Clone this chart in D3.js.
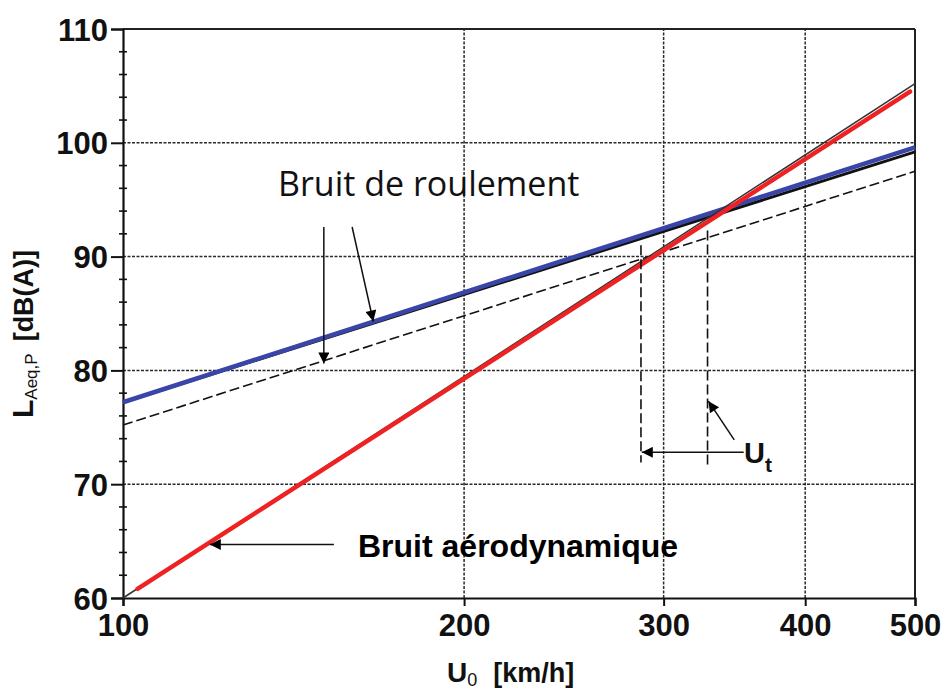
<!DOCTYPE html>
<html><head><meta charset="utf-8">
<script src="https://cdn.jsdelivr.net/npm/d3@7"></script>
<style>body{margin:0;background:#fff}svg{display:block}</style>
</head><body>
<svg id="chart" width="944" height="691"></svg>
<script>
// ---- data ----
const xTicks = [100, 200, 300, 400, 500];
const xGrid = [200, 300, 400];
const yTicks = [60, 70, 80, 90, 100, 110];
const yGrid = [70, 80, 90, 100];
const yMinor = [62, 64, 66, 68, 72, 74, 76, 78, 82, 84, 86, 88, 92, 94, 96, 98, 102, 104, 106, 108];
const speeds = [100, 500];
const rollingBlue = [77.2, 99.6];
const rollingBlack = [77.2, 99.2];
const rollingDashed = [75.2, 97.5];
const aeroBlack = [60.0, 105.2];
const aeroRedSpeeds = [103, 495];
const aeroRed = [60.8, 104.5];
const utSpeeds = [286.5, 328];
const utTop = [91.0, 92.3];
const utBottom = [71.9, 71.7];

// ---- layout ----
const W = 944, H = 691;
const m = {left: 123, right: 944 - 915, top: 29, bottom: 691 - 598};
const svg = d3.select('#chart');
const x = d3.scaleLog().domain([100, 500]).range([m.left, W - m.right]);
const y = d3.scaleLinear().domain([60, 110]).range([H - m.bottom, m.top]);

const defs = svg.append('defs');
defs.append('marker').attr('id', 'arr').attr('viewBox', '0 0 10 10')
  .attr('refX', 10).attr('refY', 5).attr('markerWidth', 14).attr('markerHeight', 11)
  .attr('markerUnits', 'userSpaceOnUse').attr('orient', 'auto')
  .append('path').attr('d', 'M0,0 L10,5 L0,10 Z').attr('fill', '#000');

// grid
const g = svg.append('g');
g.selectAll('.hg').data(yGrid).join('line')
  .attr('x1', x(100)).attr('x2', x(500)).attr('y1', d => y(d)).attr('y2', d => y(d))
  .attr('stroke', '#2a2a2a').attr('stroke-width', 1.5).attr('stroke-dasharray', '3,1.5');
g.selectAll('.vg').data(xGrid).join('line')
  .attr('y1', y(60)).attr('y2', y(110)).attr('x1', d => x(d)).attr('x2', d => x(d))
  .attr('stroke', '#2a2a2a').attr('stroke-width', 1.5).attr('stroke-dasharray', '3,1.5');

// frame
svg.append('line').attr('x1', x(100)).attr('x2', x(500)).attr('y1', y(110)).attr('y2', y(110)).attr('stroke', '#222').attr('stroke-width', 2);
svg.append('line').attr('x1', x(500)).attr('x2', x(500)).attr('y1', y(110)).attr('y2', y(60)).attr('stroke', '#222').attr('stroke-width', 2);

// axes
const yAxis = d3.axisLeft(y).tickValues(yTicks).tickSize(12).tickFormat(d3.format('d'));
const ya = svg.append('g').attr('transform', `translate(${x(100)},0)`).call(yAxis);
ya.select('.domain').attr('stroke-width', 2.2).attr('stroke', '#111');
ya.selectAll('.tick line').attr('stroke-width', 2).attr('stroke', '#111');
ya.selectAll('.tick text').attr('x', -15).attr('dy', '0.36em')
  .style('font-family', '"Liberation Sans", Arial, sans-serif').style('font-weight', 'bold')
  .style('font-size', '31px').attr('fill', '#111');
svg.append('g').selectAll('line').data(yMinor).join('line')
  .attr('x1', x(100) - 4).attr('x2', x(100) + 4).attr('y1', d => y(d)).attr('y2', d => y(d))
  .attr('stroke', '#111').attr('stroke-width', 1.6);

const xAxis = d3.axisBottom(x).tickValues(xTicks).tickSize(8).tickFormat(d3.format('d'));
const xa = svg.append('g').attr('transform', `translate(0,${y(60)})`).call(xAxis);
xa.select('.domain').attr('stroke-width', 2.2).attr('stroke', '#111');
xa.selectAll('.tick line').attr('stroke-width', 2).attr('stroke', '#111');
xa.selectAll('.tick text').attr('y', 38).attr('dy', 0)
  .style('font-family', '"Liberation Sans", Arial, sans-serif').style('font-weight', 'bold')
  .style('font-size', '31px').attr('fill', '#111');

// lines
const line = d3.line().x(d => x(d[0])).y(d => y(d[1]));
const zip = (a, b) => a.map((v, i) => [v, b[i]]);
svg.append('path').attr('d', line(zip(speeds, rollingDashed))).attr('fill', 'none')
  .attr('stroke', '#111').attr('stroke-width', 1.6).attr('stroke-dasharray', '10,4');
svg.append('path').attr('d', line(zip(speeds, rollingBlack))).attr('fill', 'none')
  .attr('stroke', '#111').attr('stroke-width', 3);
svg.append('path').attr('d', line(zip(speeds, rollingBlue))).attr('fill', 'none')
  .attr('stroke', '#3a45a8').attr('stroke-width', 4.5);
svg.append('path').attr('d', line(zip(speeds, aeroBlack))).attr('fill', 'none')
  .attr('stroke', '#333').attr('stroke-width', 1.5);
svg.append('path').attr('d', line(zip(aeroRedSpeeds, aeroRed))).attr('fill', 'none')
  .attr('stroke', '#ee2222').attr('stroke-width', 4.5).attr('stroke-linecap', 'round');

// U_t verticals
svg.append('g').selectAll('line').data(utSpeeds).join('line')
  .attr('x1', d => x(d)).attr('x2', d => x(d))
  .attr('y1', (d, i) => y(utTop[i])).attr('y2', (d, i) => y(utBottom[i]))
  .attr('stroke', '#111').attr('stroke-width', 1.6).attr('stroke-dasharray', '10,4');

// annotation arrows (data coords)
const arrows = [
  [[150.4, 92.6], [150.4, 80.6]],
  [[159.3, 92.6], [166.3, 84.3]],
  [[153.5, 64.7], [119.3, 64.7]],
  [[353, 72.8], [287, 72.8]],
  [[346.3, 73.9], [328.6, 77.3]]
];
svg.append('g').selectAll('line').data(arrows).join('line')
  .attr('x1', d => x(d[0][0])).attr('y1', d => y(d[0][1]))
  .attr('x2', d => x(d[1][0])).attr('y2', d => y(d[1][1]))
  .attr('stroke', '#111').attr('stroke-width', 1.5).attr('marker-end', 'url(#arr)');

// labels
svg.append('text').attr('x', 278).attr('y', 196).text('Bruit de roulement')
  .style('font-family', '"Open Sans", sans-serif').style('font-size', '34px').attr('fill', '#111');
svg.append('text').attr('x', 358).attr('y', 557).text('Bruit aérodynamique')
  .style('font-family', '"Liberation Sans", Arial, sans-serif').style('font-weight', 'bold')
  .style('font-size', '32px').attr('fill', '#000');
const ut = svg.append('text').attr('x', 744).attr('y', 463)
  .style('font-family', '"Liberation Sans", Arial, sans-serif').style('font-weight', 'bold').attr('fill', '#111');
ut.append('tspan').text('U').style('font-size', '29px');
ut.append('tspan').text('t').attr('dy', 9).style('font-size', '21px');

const xl = svg.append('text').attr('x', 447).attr('y', 682)
  .style('font-family', '"Liberation Sans", Arial, sans-serif').style('font-weight', 'bold').attr('fill', '#111');
xl.append('tspan').text('U').style('font-size', '28px');
xl.append('tspan').text('0').attr('dy', 4).style('font-size', '18px').style('font-weight', 'normal');
xl.append('tspan').text('[km/h]').attr('dy', -4).attr('dx', 16).style('font-size', '27px');

const yl = svg.append('text').attr('transform', 'translate(33,418) rotate(-90)')
  .style('font-family', '"Liberation Sans", Arial, sans-serif').style('font-weight', 'bold').attr('fill', '#111');
yl.append('tspan').text('L').style('font-size', '30px');
yl.append('tspan').text('Aeq,P').attr('dy', 4).style('font-size', '17px').style('font-weight', 'normal');
yl.append('tspan').text('[dB(A)]').attr('dy', -4).attr('dx', 12).style('font-size', '27px');
</script>
</body></html>
